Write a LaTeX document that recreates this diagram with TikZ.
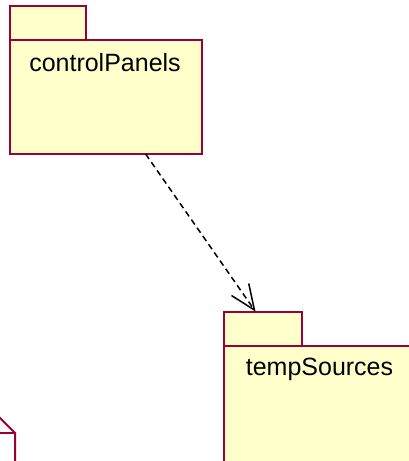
\documentclass[tikz,border=0pt]{standalone}
\usepackage{fontspec}
\setmainfont{Liberation Sans}
\usetikzlibrary{arrows.meta}
\definecolor{pkgred}{RGB}{153,0,51}
\definecolor{pkgfill}{RGB}{255,255,204}
\tikzset{
  pkgbox/.style={draw=pkgred, line width=2pt, fill=pkgfill, inner sep=0pt, outer sep=0pt, rectangle},
  pkglabel/.style={font=\fontsize{25}{30}\selectfont, text=black, inner sep=0pt},
  depline/.style={draw=black, line width=1.5pt, dash pattern=on 6pt off 4pt,
     -{Straight Barb[length=25pt,width=21pt,line width=1.5pt]}},
  notebox/.style={draw=pkgred, line width=2pt, fill=white}
}
\begin{document}
\begin{tikzpicture}[x=1pt,y=-1pt]
\useasboundingbox (0,0) rectangle (409,461);
\clip (0,0) rectangle (409,461);
% controlPanels package
\node[pkgbox, minimum width=192pt, minimum height=114pt] (cp) at (106,97) {};
\node[pkgbox, minimum width=76pt, minimum height=34pt, anchor=south west] (cptab) at (cp.north west) {};
\node[pkglabel, anchor=base] (cplabel) at (105,71) {controlPanels};
% tempSources package
\node[pkgbox, minimum width=196pt, minimum height=122pt] (ts) at (322,407) {};
\node[pkgbox, minimum width=78pt, minimum height=34pt, anchor=south west] (tstab) at (ts.north west) {};
\node[pkglabel, anchor=base] (tslabel) at (319.5,375) {tempSources};
% dependency
\coordinate (tsin) at (intersection of cp.center--ts.center and tstab.north west--tstab.north east);
\draw[depline, shorten >=0.5pt] (cp) -- (tsin);
% note (partly visible)
\draw[notebox] (-40,416) -- (-2,416) -- (15,433) -- (15,470) -- (-40,470) -- cycle;
\draw[draw=pkgred, line width=2pt] (-2,416) -- (-2,433) -- (15,433);
\end{tikzpicture}
\end{document}
